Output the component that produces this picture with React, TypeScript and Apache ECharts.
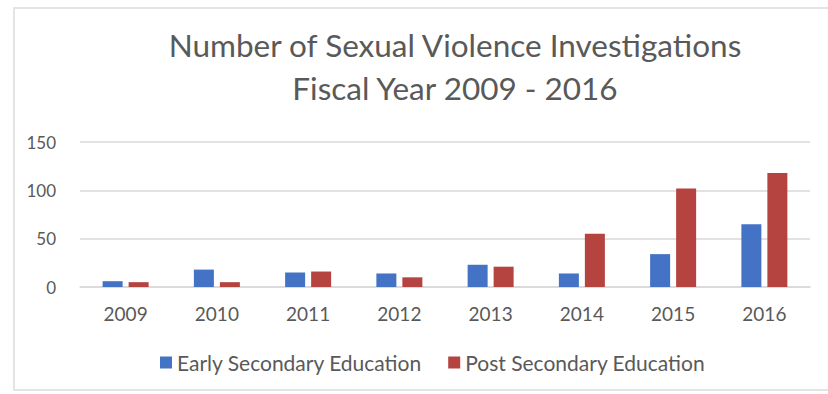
import React, { useEffect, useRef } from "react";
import * as echarts from "echarts";

const categories = ["2009", "2010", "2011", "2012", "2013", "2014", "2015", "2016"];
const earlySecondary = [6, 18, 15, 14, 23, 14, 34, 65];
const postSecondary = [5, 5, 16, 10, 21, 55, 102, 118];
const titleText = "Number of Sexual Violence Investigations\nFiscal Year 2009 - 2016";
const seriesNames = ["Early Secondary Education", "Post Secondary Education"];

export default function App() {
  const ref = useRef<HTMLDivElement>(null);
  useEffect(() => {
    if (!ref.current) return;
    const chart = echarts.init(ref.current, null, { renderer: "svg" });
    const font = "Lato, 'Open Sans', sans-serif";
    chart.setOption({
      animation: false,
      backgroundColor: "#ffffff",
      textStyle: { fontFamily: font },
      graphic: [
        {
          type: "rect",
          shape: { x: 14, y: 8, width: 830, height: 382 },
          style: { fill: "none", stroke: "#e4e4e4", lineWidth: 2 },
          silent: true,
        },
      ],
      title: {
        text: titleText,
        left: 450,
        textAlign: "center",
        top: 18,
        textStyle: {
          fontFamily: font,
          fontSize: 31.5,
          fontWeight: "normal",
          color: "#595959",
          lineHeight: 43,
          align: "center",
        },
      },
      legend: {
        top: 347,
        left: 155,
        itemWidth: 12,
        itemHeight: 12,
        itemGap: 26,
        icon: "rect",
        textStyle: { fontFamily: font, fontSize: 21, color: "#595959" },
        data: seriesNames,
      },
      grid: { left: 80, right: 18, top: 142, bottom: 107, containLabel: false },
      xAxis: {
        type: "category",
        data: categories,
        axisLine: { lineStyle: { color: "#d9d9d9", width: 1.5 } },
        axisTick: { show: false },
        axisLabel: { fontSize: 19, color: "#595959", margin: 17, fontFamily: font },
      },
      yAxis: {
        type: "value",
        min: 0,
        max: 150,
        interval: 50,
        axisLine: { show: false },
        axisTick: { show: false },
        splitLine: { lineStyle: { color: "#d9d9d9", width: 1.5 } },
        axisLabel: { fontSize: 17, color: "#595959", margin: 24, fontFamily: font },
      },
      series: [
        {
          name: seriesNames[0],
          type: "bar",
          data: earlySecondary,
          itemStyle: { color: "#4472c4" },
          barWidth: 20,
          barGap: "30%",
        },
        {
          name: seriesNames[1],
          type: "bar",
          data: postSecondary,
          itemStyle: { color: "#b5433f" },
          barWidth: 20,
          barGap: "30%",
        },
      ],
    });
    return () => chart.dispose();
  }, []);
  return <div ref={ref} style={{ width: 828, height: 394, position: "absolute", left: 0, top: 0 }} />;
}
